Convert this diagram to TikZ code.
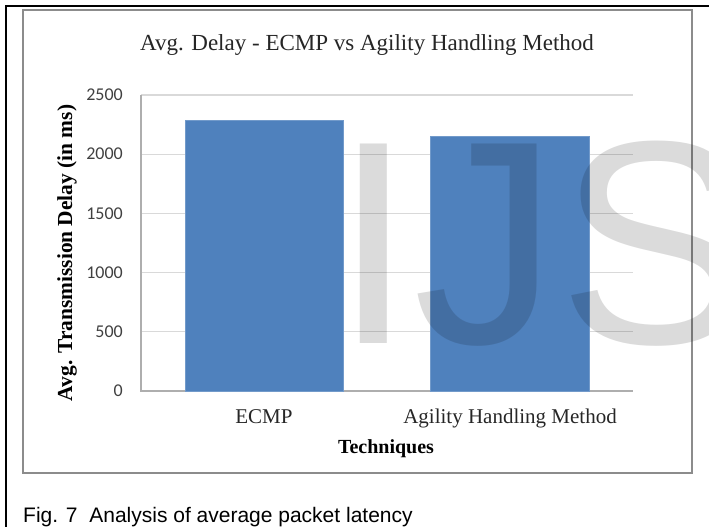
\documentclass[tikz,border=0pt]{standalone}
\usepackage{fontspec}
\setmainfont{Liberation Serif}
\newfontfamily\tickfont{Carlito}
\newfontfamily\capfont{Liberation Sans}
\definecolor{barblue}{HTML}{4F81BD}
\definecolor{gridgray}{HTML}{D9D9D9}
\definecolor{framegray}{HTML}{8C8C8C}
\tikzset{
  ticklabel/.style={anchor=east, inner sep=0pt, font=\tickfont\fontsize{18}{18}\selectfont, text=black!75},
  catlabel/.style={anchor=base, inner sep=0pt, font=\fontsize{21}{21}\selectfont, text=black!85},
  bar/.style={fill=barblue, draw=barblue!80!white, line width=0.6pt}
}
\begin{document}
\begin{tikzpicture}[x=1pt,y=-1pt]
  \useasboundingbox (0,0) rectangle (709,527);
  % outer frame and chart area
  \draw[line width=2.5pt] (6,527) -- (6,6) -- (709,6);
  \draw[framegray, line width=1.2pt] (23,10) rectangle (692,473);
  % grid and ticks
  \foreach \v in {500,1000,1500,2000,2500}
    \draw[gridgray, line width=1.2pt] (141,{391-\v*0.1184}) -- (633,{391-\v*0.1184});
  \foreach \v in {0,500,1000,1500,2000,2500}
    \node[ticklabel] (tick\v) at (123,{391-\v*0.1184}) {\v};
  \draw[gridgray!80!black, line width=1.2pt] (141,95) -- (141,391) -- (633,391);
  % bars
  \draw[bar] (185,{391-2290*0.1184}) rectangle (343,391);
  \draw[bar] (430,{391-2150*0.1184}) rectangle (589,391);
  % texts
  \node[anchor=base, inner sep=0pt, font=\fontsize{23}{23}\selectfont, text=black!85] (title) at (367,51) {Avg. Delay - ECMP vs Agility Handling Method};
  \node[rotate=90, inner sep=0pt, font=\bfseries\fontsize{21.4}{21.4}\selectfont] (ylab) at (67,253) {Avg. Transmission Delay (in ms)};
  \node[catlabel] (ecmp) at (264,423) {ECMP};
  \node[catlabel] (ahm) at (510,423) {Agility Handling Method};
  \node[anchor=base, inner sep=0pt, font=\bfseries\fontsize{20}{20}\selectfont] (xlab) at (386,453) {Techniques};
  \node[anchor=base west, inner sep=0pt, font=\capfont\fontsize{21}{21}\selectfont] (caption) at (23,522) {Fig. 7\ \ Analysis of average packet latency};
  % watermark
  \node[anchor=base west, inner sep=0pt, font=\capfont\fontsize{290}{290}\selectfont, text=black, text opacity=0.14] (mark) at (333,343) {IJS};
\end{tikzpicture}
\end{document}
